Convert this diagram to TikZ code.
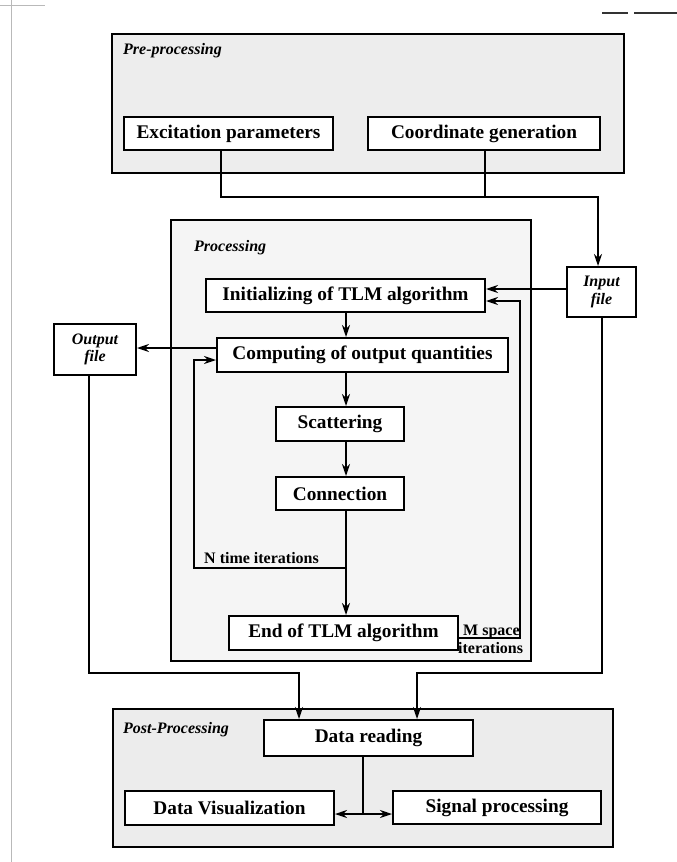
\documentclass[tikz,border=0pt]{standalone}
\usepackage{fontspec}
\setmainfont{Liberation Serif}
\usetikzlibrary{arrows.meta}
\begin{document}
\begin{tikzpicture}[x=1pt,y=-1pt,
  bx/.style={draw, line width=2pt, fill=white, inner sep=0pt, font=\fontsize{19.3}{22}\selectfont\bfseries},
  fl/.style={draw, line width=2pt, fill=white, inner sep=0pt, align=center, font=\fontsize{16}{17.5}\selectfont\bfseries\itshape},
  grp/.style={draw, line width=1.8pt, inner sep=0pt},
  lbl/.style={inner sep=0pt, anchor=base west, font=\fontsize{16}{18}\selectfont\bfseries\itshape},
  itl/.style={inner sep=0pt, anchor=base west, font=\fontsize{16}{18}\selectfont\bfseries},
  cn/.style={line width=1.6pt},
  ar/.style={cn, -{Stealth[length=12pt,width=8pt,inset=4pt]}},
  tipa/.tip={Stealth[length=12pt,width=8pt,inset=4pt]}
]
\useasboundingbox[fill=white] (0,0) rectangle (677,862);
% scan marks
\draw[gray!55, line width=0.8pt] (11,0) -- (11,862);
\draw[gray!55, line width=0.8pt] (0,5) -- (45,5);
\draw[black!80, line width=2pt] (602,13) -- (628,13);
\draw[black!80, line width=2pt] (634,13) -- (677,13);

% group boxes
\node[grp, fill=gray!14, minimum width=512pt, minimum height=139pt] (pre) at (368,103.5) {};
\node[grp, fill=gray!8, minimum width=360pt, minimum height=441pt] (proc) at (351,440.5) {};
\node[grp, fill=gray!15, minimum width=500pt, minimum height=138pt] (post) at (363,778) {};
\node[lbl] (prelbl) at (123,54) {Pre-processing};
\node[lbl] (proclbl) at (194,251) {Processing};
\node[lbl] (postlbl) at (123,733) {Post-Processing};

% nodes
\node[bx, minimum width=209pt, minimum height=33pt] (excit) at (228.5,133.5) {Excitation parameters};
\node[bx, minimum width=232pt, minimum height=33pt] (coord) at (484,133.5) {Coordinate generation};
\node[fl, minimum width=69pt, minimum height=50pt] (input) at (601.5,292) {Input\\file};
\node[fl, minimum width=82pt, minimum height=51pt] (output) at (95,349.5) {Output\\file};
\node[bx, minimum width=279pt, minimum height=33pt] (init) at (345.5,295.5) {Initializing of TLM algorithm};
\node[bx, minimum width=291pt, minimum height=34pt] (comp) at (362.5,355) {Computing of output quantities};
\node[bx, minimum width=128pt, minimum height=34pt] (scat) at (340,424) {Scattering};
\node[bx, minimum width=128pt, minimum height=33pt] (conn) at (340,493.5) {Connection};
\node[bx, minimum width=229pt, minimum height=34pt] (endn) at (343.5,633) {End of TLM algorithm};
\node[bx, minimum width=209pt, minimum height=36pt] (dread) at (368.5,738) {Data reading};
\node[bx, minimum width=209pt, minimum height=34pt] (dviz) at (229.5,808) {Data Visualization};
\node[bx, minimum width=208pt, minimum height=33pt] (sig) at (497,807.5) {Signal processing};

\node[itl] (nlbl) at (204,563) {N time iterations};
\node[itl] (mlbl) at (463,635) {M space};
\node[itl] (mlbl2) at (458,653) {iterations};

% coordinates
\coordinate (jl) at (221,197);
\coordinate (jc) at (485,197);
\coordinate (jr) at (598,197);
\coordinate (ia) at (540,289);
\coordinate (oa) at (170,348);
\coordinate (nj) at (346,568);
\coordinate (nl) at (194,360);
\coordinate (mb) at (520,638);
\coordinate (mr) at (520,301);
\coordinate (ob) at (89,673);
\coordinate (ot) at (299,673);
\coordinate (ib) at (602,673);
\coordinate (itp) at (417,673);
\coordinate (dj) at (363,814);

% connectors
\draw[ar] (excit.south -| jl) -- (jl) -- (jr) -- (input.north -| jr);
\draw[cn] (coord.south -| jc) -- (jc);
\draw[ar] (input.west |- ia) -- (init.east |- ia);
\draw[ar] (comp.west |- oa) -- (output.east |- oa);
\draw[ar] (init.south -| nj) -- (comp.north -| nj);
\draw[ar] (comp.south -| nj) -- (scat.north -| nj);
\draw[ar] (scat.south -| nj) -- (conn.north -| nj);
\draw[ar] (conn.south -| nj) -- (endn.north -| nj);
\draw[ar] (nj) -| (nl) -- (comp.west |- nl);
\draw[ar] (endn.east |- mb) -- (mb) -- (mr) -- (init.east |- mr);
\draw[ar] (output.south -| ob) -- (ob) -- (ot) -- (dread.north -| ot);
\draw[ar] (input.south -| ib) -- (ib) -- (itp) -- (dread.north -| itp);
\draw[cn] (dread.south -| dj) -- (dj);
\draw[ar] (dj) -- (dviz.east |- dj);
\draw[ar] (dj) -- (sig.west |- dj);
\end{tikzpicture}
\end{document}
